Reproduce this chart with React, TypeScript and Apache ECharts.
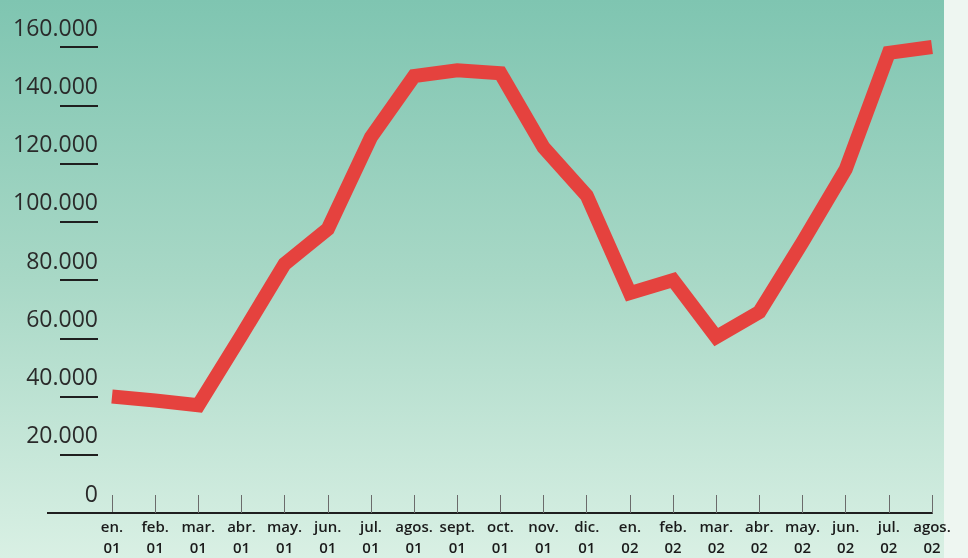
import React, { useEffect, useRef } from "react";
import * as echarts from "echarts";

const months = [
  "en.\n01", "feb.\n01", "mar.\n01", "abr.\n01", "may.\n01", "jun.\n01", "jul.\n01", "agos.\n01", "sept.\n01", "oct.\n01",
  "nov.\n01", "dic.\n01", "en.\n02", "feb.\n02", "mar.\n02", "abr.\n02", "may.\n02", "jun.\n02", "jul.\n02", "agos.\n02",
];

const values = [
  40000, 38600, 37000, 61000, 85500, 97500, 129000, 150000, 152000, 151000,
  125500, 109000, 75500, 80000, 60400, 69000, 93000, 118000, 158000, 160000,
];

const yTickValues = [0, 20000, 40000, 60000, 80000, 100000, 120000, 140000, 160000];
const yTickLabels = ["0", "20.000", "40.000", "60.000", "80.000", "100.000", "120.000", "140.000", "160.000"];

export default function App() {
  const ref = useRef<HTMLDivElement>(null);

  useEffect(() => {
    if (!ref.current) return;
    const chart = echarts.init(ref.current, null, { renderer: "svg" });
    chart.setOption({
      animation: false,
      grid: { left: 112, right: 36, top: 47, bottom: 45, outerBoundsMode: "none", containLabel: false },
      graphic: [
        {
          type: "rect",
          z: -100,
          silent: true,
          shape: { x: 0, y: 0, width: 968, height: 558 },
          style: {
            fill: new echarts.graphic.LinearGradient(0, 0, 0, 1, [
              { offset: 0, color: "#7fc5b1" },
              { offset: 0.5, color: "#a8d8c6" },
              { offset: 1, color: "#d9f0e4" },
            ]),
          },
        },
        {
          type: "rect",
          z: -99,
          silent: true,
          shape: { x: 944, y: 0, width: 24, height: 558 },
          style: { fill: "#eef6f1" },
        },
        {
          type: "line",
          z: 10,
          silent: true,
          shape: { x1: 47, y1: 513, x2: 113, y2: 513 },
          style: { stroke: "#1f1f1f", lineWidth: 2 },
        },
      ],
      xAxis: {
        type: "category",
        data: months,
        boundaryGap: false,
        axisLine: { show: true, lineStyle: { color: "#1f1f1f", width: 2 } },
        axisTick: { show: true, inside: true, length: 18, interval: 0, lineStyle: { color: "#6b6b6b", width: 1 } },
        axisLabel: {
          interval: 0,
          margin: 2,
          color: "#1a1a1a",
          fontFamily: "Open Sans",
          fontWeight: 600,
          fontSize: 15,
          lineHeight: 21,
        },
        splitLine: { show: false },
      },
      yAxis: {
        type: "value",
        min: 0,
        max: 160000,
        interval: 20000,
        offset: 14,
        axisLine: { show: false },
        axisTick: { show: true, length: 38, lineStyle: { color: "#1f1f1f", width: 2 } },
        axisLabel: {
          margin: 0,
          align: "right",
          verticalAlign: "bottom",
          padding: [0, 0, 9, 0],
          color: "#2a2a2a",
          fontFamily: "Open Sans",
          fontSize: 23,
          formatter: (v: number) => {
            const i = yTickValues.indexOf(v);
            return i >= 0 ? yTickLabels[i] : "";
          },
        },
        splitLine: { show: false },
      },
      series: [
        {
          type: "line",
          data: values,
          showSymbol: false,
          symbol: "none",
          lineStyle: { color: "#e5423e", width: 14, cap: "butt", join: "miter" },
          z: 5,
        },
      ],
    });
    return () => chart.dispose();
  }, []);

  return (
    <div
      ref={ref}
      style={{ position: "fixed", left: 0, top: 0, width: 968, height: 558 }}
    />
  );
}
